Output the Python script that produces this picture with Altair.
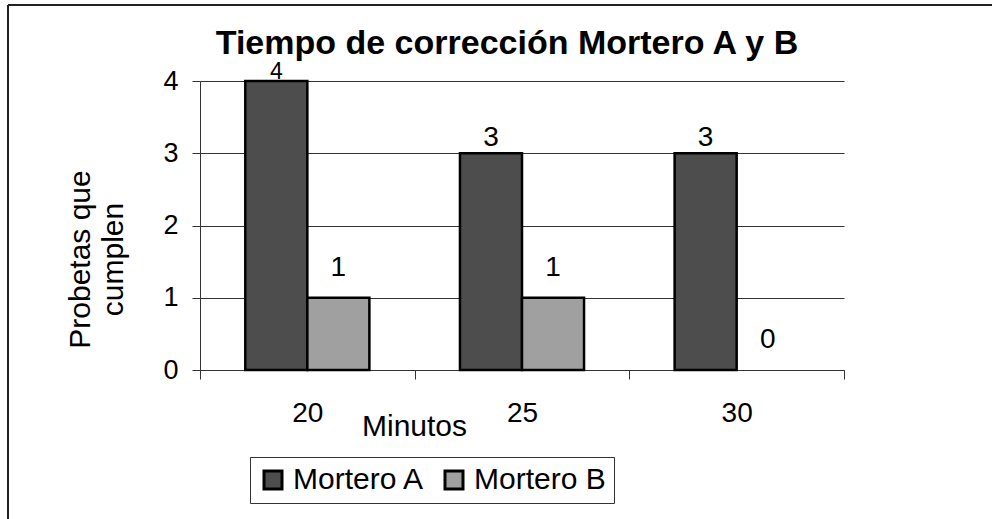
import altair as alt
import pandas as pd

# Source values
minutos = ["20", "25", "30"]
mortero_a = [4, 3, 3]
mortero_b = [1, 1, 0]
series = ["Mortero A", "Mortero B"]
colores = ["#4d4d4d", "#a0a0a0"]
titulo = "Tiempo de corrección Mortero A y B"
y_max = 4

rows = []
for i, m in enumerate(minutos):
    rows.append({"Minutos": m, "Mortero": series[0], "Probetas": mortero_a[i]})
    rows.append({"Minutos": m, "Mortero": series[1], "Probetas": mortero_b[i]})
df = pd.DataFrame(rows)

FONT = "Liberation Sans"
W, H = 644, 289
LEFT, TOP = 200, 81

x_enc = alt.X(
    "Minutos:N",
    sort=minutos,
    scale=alt.Scale(paddingInner=0, paddingOuter=0),
    axis=alt.Axis(
        title="Minutos",
        labelAngle=0,
        tickBand="extent",
        tickSize=9,
        tickColor="#333333",
        domainColor="#333333",
        labelPadding=20,
        labelFont=FONT,
        labelFontSize=28,
        labelColor="black",
        titleFont=FONT,
        titleFontSize=30,
        titleFontWeight="normal",
        titleColor="black",
        titleX=214,
        titleY=65,
        titleAlign="center",
        titleBaseline="alphabetic",
        grid=False,
    ),
)
xoff_enc = alt.XOffset(
    "Mortero:N",
    sort=series,
    scale=alt.Scale(domain=series, paddingInner=0, paddingOuter=0.73),
)
y_enc = alt.Y(
    "Probetas:Q",
    scale=alt.Scale(domain=[0, y_max], nice=False),
    axis=alt.Axis(
        title=["Probetas que", "cumplen"],
        values=[0, 1, 2, 3, 4],
        format="d",
        tickSize=8,
        tickColor="#333333",
        domainColor="#333333",
        labelPadding=14,
        labelFont=FONT,
        labelFontSize=27,
        labelColor="black",
        titleFont=FONT,
        titleFontSize=30,
        titleFontWeight="normal",
        titleColor="black",
        titleAngle=270,
        titleX=-120,
        titleY=178,
        titleAlign="center",
        titleBaseline="middle",
        titleLineHeight=33,
        grid=True,
        gridColor="#333333",
        gridWidth=1,
    ),
)

base = alt.Chart(df)

bars = base.mark_bar(stroke="black", strokeWidth=2.5).encode(
    x=x_enc,
    xOffset=xoff_enc,
    y=y_enc,
    strokeOpacity=alt.condition(alt.datum.Probetas > 0, alt.value(1), alt.value(0)),
    color=alt.Color(
        "Mortero:N",
        sort=series,
        scale=alt.Scale(domain=series, range=colores),
        legend=alt.Legend(
            title=None,
            orient="none",
            legendX=50,
            legendY=376,
            direction="horizontal",
            columns=2,
            symbolType="square",
            symbolSize=324,
            symbolStrokeColor="black",
            symbolStrokeWidth=3,
            symbolOpacity=1,
            labelFont=FONT,
            labelFontSize=30,
            labelColor="black",
            labelOffset=5,
            columnPadding=14,
            padding=8,
            strokeColor="#333333",
            fillColor="white",
        ),
    ),
)


def value_labels(cond, dy, size=28):
    return (
        base.transform_filter(cond)
        .mark_text(font=FONT, fontSize=size, baseline="alphabetic", dy=dy, color="black")
        .encode(x=x_enc, xOffset=xoff_enc, y=y_enc, text="Probetas:Q")
    )


# labels of series A sit just above the bar; a bar at the top of the scale keeps a tight, smaller label
labels_a_top = value_labels((alt.datum.Mortero == series[0]) & (alt.datum.Probetas >= y_max), -2, 23)
labels_a = value_labels((alt.datum.Mortero == series[0]) & (alt.datum.Probetas < y_max), -7)
labels_b = value_labels(alt.datum.Mortero == series[1], -22)

one = alt.Chart(pd.DataFrame({"t": [titulo]}))

title_mark = one.mark_text(
    font=FONT, fontSize=34, fontWeight="bold", baseline="alphabetic", align="center", color="black"
).encode(text="t:N", x=alt.value(307), y=alt.value(-27))

# outer chart frame (top and left edges)
frame_top = one.mark_rule(color="#222222", strokeWidth=2).encode(
    x=alt.value(8 - LEFT), x2=alt.value(1000 - LEFT), y=alt.value(5 - TOP)
)
frame_left = one.mark_rule(color="#222222", strokeWidth=2).encode(
    x=alt.value(8 - LEFT), y=alt.value(5 - TOP), y2=alt.value(530 - TOP)
)

chart = (
    alt.layer(bars, labels_a_top, labels_a, labels_b, title_mark, frame_top, frame_left)
    .properties(
        width=W,
        height=H,
        autosize=alt.AutoSizeParams(type="none"),
        padding={"left": LEFT, "top": TOP, "right": 992 - LEFT - W, "bottom": 519 - TOP - H},
        background="white",
    )
    .configure_view(stroke=None)
)

chart.save("out.html", embed_options={"renderer": "svg", "actions": False})
